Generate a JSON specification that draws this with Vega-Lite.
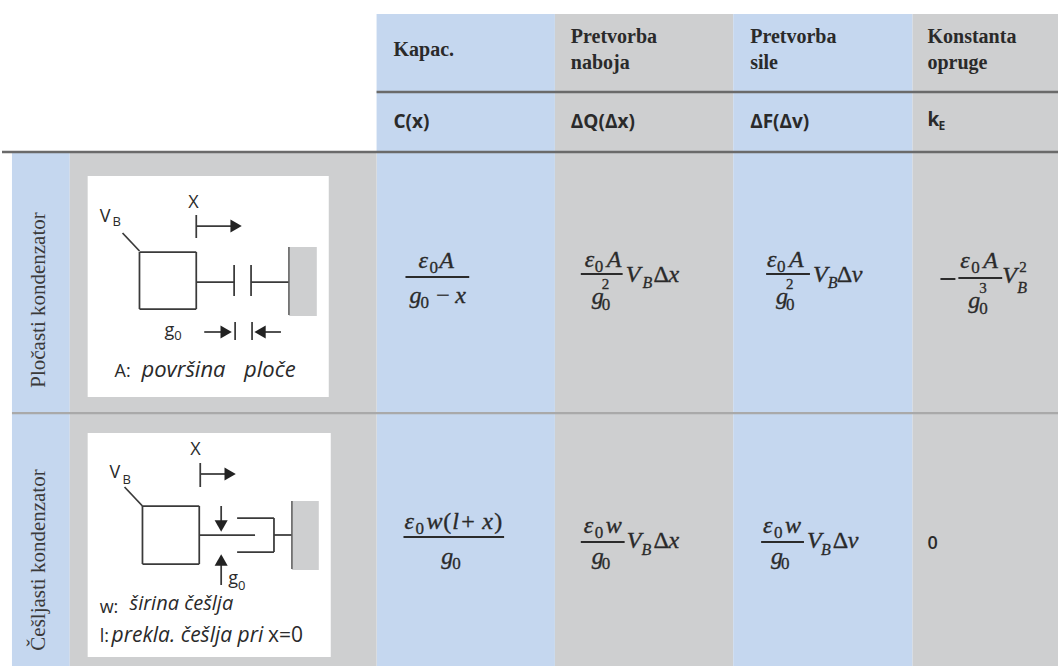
{
"$schema":"https://vega.github.io/schema/vega-lite/v6.json",
"width":1060,"height":666,"padding":0,"autosize":{"type":"fit","contains":"padding"},
"background":"#ffffff","view":{"stroke":null},
"datasets":{
"cells":[
{"kind":"blue","x":376,"x2":555,"y":14,"y2":666},
{"kind":"gray","x":555,"x2":734,"y":14,"y2":666},
{"kind":"blue","x":734,"x2":914,"y":14,"y2":666},
{"kind":"gray","x":914,"x2":1060,"y":14,"y2":666},
{"kind":"blue","x":10,"x2":68,"y":153,"y2":666},
{"kind":"gray","x":68,"x2":376,"y":153,"y2":666},
{"kind":"white","x":86,"x2":328,"y":176,"y2":397},
{"kind":"white","x":86,"x2":330,"y":433,"y2":657},
{"kind":"gray","x":288,"x2":316,"y":247,"y2":316},
{"kind":"gray","x":291,"x2":318,"y":501,"y2":570}
],
"lines":[
{"kind":"head","x":376,"x2":1060,"y":92,"y2":92},
{"kind":"head","x":0,"x2":1060,"y":152,"y2":152},
{"kind":"row","x":10,"x2":1060,"y":413,"y2":413},
{"kind":"frac","x":405,"x2":469,"y":277,"y2":277},
{"kind":"frac","x":581,"x2":623,"y":274,"y2":274},
{"kind":"frac","x":767,"x2":811,"y":274,"y2":274},
{"kind":"frac","x":960,"x2":1004,"y":278,"y2":278},
{"kind":"frac","x":942,"x2":957,"y":279,"y2":279},
{"kind":"frac","x":403,"x2":504,"y":537,"y2":537},
{"kind":"frac","x":581,"x2":625,"y":542,"y2":542},
{"kind":"frac","x":762,"x2":805,"y":542,"y2":542},
{"kind":"draw","x":121,"x2":138,"y":233,"y2":251},
{"kind":"draw","x":138,"x2":195,"y":252,"y2":252},
{"kind":"draw","x":138,"x2":195,"y":309,"y2":309},
{"kind":"draw","x":138,"x2":138,"y":252,"y2":309},
{"kind":"draw","x":195,"x2":195,"y":252,"y2":309},
{"kind":"draw","x":195,"x2":195,"y":215,"y2":238},
{"kind":"draw","x":195,"x2":230,"y":226,"y2":226},
{"kind":"draw","x":195,"x2":233,"y":282,"y2":282},
{"kind":"draw","x":233,"x2":233,"y":265,"y2":296},
{"kind":"draw","x":250,"x2":250,"y":265,"y2":296},
{"kind":"draw","x":250,"x2":288,"y":282,"y2":282},
{"kind":"wall","x":288,"x2":288,"y":247,"y2":315},
{"kind":"draw","x":203,"x2":222,"y":332,"y2":332},
{"kind":"draw","x":234,"x2":234,"y":322,"y2":340},
{"kind":"draw","x":251,"x2":251,"y":322,"y2":340},
{"kind":"draw","x":262,"x2":280,"y":332,"y2":332},
{"kind":"draw","x":123,"x2":141,"y":487,"y2":506},
{"kind":"draw","x":141,"x2":198,"y":506,"y2":506},
{"kind":"draw","x":141,"x2":198,"y":564,"y2":564},
{"kind":"draw","x":141,"x2":141,"y":506,"y2":564},
{"kind":"draw","x":198,"x2":198,"y":506,"y2":564},
{"kind":"draw","x":199,"x2":199,"y":463,"y2":487},
{"kind":"draw","x":199,"x2":224,"y":474,"y2":474},
{"kind":"draw","x":198,"x2":254,"y":535,"y2":535},
{"kind":"draw","x":220,"x2":220,"y":506,"y2":522},
{"kind":"draw","x":220,"x2":220,"y":565,"y2":585},
{"kind":"draw","x":236,"x2":273,"y":518,"y2":518},
{"kind":"draw","x":236,"x2":273,"y":552,"y2":552},
{"kind":"draw","x":273,"x2":273,"y":518,"y2":552},
{"kind":"draw","x":273,"x2":291,"y":535,"y2":535},
{"kind":"wall","x":291,"x2":291,"y":501,"y2":569}
],
"arrows":[
{"dir":"right","x":235,"y":226},
{"dir":"right","x":225,"y":332},
{"dir":"left","x":259,"y":332},
{"dir":"right","x":229,"y":474},
{"dir":"down","x":220,"y":526},
{"dir":"up","x":220,"y":560}
],
"labels":[
{"role":"head","text":"Kapac.","x":393,"y":56},
{"role":"head","text":"Pretvorba","x":571,"y":43},
{"role":"head","text":"naboja","x":571,"y":69},
{"role":"head","text":"Pretvorba","x":751,"y":43},
{"role":"head","text":"sile","x":751,"y":69},
{"role":"head","text":"Konstanta","x":929,"y":43},
{"role":"head","text":"opruge","x":929,"y":69},
{"role":"sym","text":"C(x)","x":393,"y":128},
{"role":"sym","text":"ΔQ(Δx)","x":571,"y":128},
{"role":"sym","text":"ΔF(Δv)","x":751,"y":128},
{"role":"sym","text":"k","x":929,"y":126},
{"role":"symsub","text":"E","x":940,"y":130},
{"role":"zero","text":"0","x":929,"y":549},
{"role":"rot","text":"Pločasti kondenzator","x":43,"y":300},
{"role":"rot","text":"Češljasti kondenzator","x":43,"y":560},
{"role":"mi","text":"ε","x":418,"y":268},{"role":"sub","text":"0","x":429,"y":273},{"role":"mi","text":"A","x":439,"y":268},
{"role":"mi","text":"g","x":409,"y":303},{"role":"sub","text":"0","x":420,"y":308},{"role":"mup","text":"−","x":436,"y":303},{"role":"mi","text":"x","x":455,"y":303},
{"role":"mi","text":"ε","x":585,"y":267},{"role":"sub","text":"0","x":595,"y":272},{"role":"mi","text":"A","x":607,"y":267},
{"role":"mi","text":"g","x":592,"y":304},{"role":"sub","text":"0","x":602,"y":310},{"role":"sup","text":"2","x":602,"y":289},
{"role":"mi","text":"V","x":626,"y":282},{"role":"subi","text":"B","x":643,"y":288},{"role":"mup","text":"Δ","x":654,"y":282},{"role":"mi","text":"x","x":669,"y":282},
{"role":"mi","text":"ε","x":768,"y":267},{"role":"sub","text":"0","x":778,"y":272},{"role":"mi","text":"A","x":790,"y":267},
{"role":"mi","text":"g","x":777,"y":304},{"role":"sub","text":"0","x":787,"y":310},{"role":"sup","text":"2","x":787,"y":289},
{"role":"mi","text":"V","x":814,"y":282},{"role":"subi","text":"B","x":829,"y":288},{"role":"mup","text":"Δ","x":838,"y":282},{"role":"mi","text":"v","x":853,"y":282},
{"role":"mi","text":"ε","x":962,"y":268},{"role":"sub","text":"0","x":973,"y":273},{"role":"mi","text":"A","x":985,"y":268},
{"role":"mi","text":"g","x":970,"y":308},{"role":"sub","text":"0","x":981,"y":314},{"role":"sup","text":"3","x":981,"y":293},
{"role":"mi","text":"V","x":1004,"y":283},{"role":"subi","text":"B","x":1019,"y":293},{"role":"sup","text":"2","x":1021,"y":272},
{"role":"mi","text":"ε","x":404,"y":529},{"role":"sub","text":"0","x":415,"y":534},{"role":"mi","text":"w","x":426,"y":529},{"role":"mup","text":"(","x":443,"y":529},{"role":"mi","text":"l","x":452,"y":529},{"role":"mup","text":"+","x":461,"y":529},{"role":"mi","text":"x","x":482,"y":529},{"role":"mup","text":")","x":494,"y":529},
{"role":"mi","text":"g","x":441,"y":564},{"role":"sub","text":"0","x":452,"y":569},
{"role":"mi","text":"ε","x":584,"y":533},{"role":"sub","text":"0","x":595,"y":538},{"role":"mi","text":"w","x":606,"y":533},
{"role":"mi","text":"g","x":592,"y":564},{"role":"sub","text":"0","x":602,"y":569},
{"role":"mi","text":"V","x":627,"y":548},{"role":"subi","text":"B","x":642,"y":555},{"role":"mup","text":"Δ","x":654,"y":548},{"role":"mi","text":"x","x":669,"y":548},
{"role":"mi","text":"ε","x":764,"y":533},{"role":"sub","text":"0","x":775,"y":538},{"role":"mi","text":"w","x":786,"y":533},
{"role":"mi","text":"g","x":772,"y":564},{"role":"sub","text":"0","x":782,"y":569},
{"role":"mi","text":"V","x":808,"y":548},{"role":"subi","text":"B","x":822,"y":555},{"role":"mup","text":"Δ","x":834,"y":548},{"role":"mi","text":"v","x":849,"y":548},
{"role":"dg","text":"X","x":187,"y":208},
{"role":"dg","text":"V","x":98,"y":222},{"role":"dgsub","text":"B","x":111,"y":226},
{"role":"dg","text":"g","x":163,"y":336},{"role":"dgsub","text":"0","x":173,"y":340},
{"role":"dg","text":"A:","x":113,"y":377},{"role":"dgit","text":"površina","x":140,"y":377},{"role":"dgit","text":"ploče","x":243,"y":377},
{"role":"dg","text":"X","x":189,"y":455},
{"role":"dg","text":"V","x":108,"y":478},{"role":"dgsub","text":"B","x":121,"y":484},
{"role":"dg","text":"g","x":227,"y":584},{"role":"dgsub","text":"0","x":237,"y":590},
{"role":"dg","text":"w:","x":98,"y":613},{"role":"dgit2","text":"širina češlja","x":128,"y":610},
{"role":"dg","text":"l:","x":98,"y":642},{"role":"dgit3","text":"prekla. češlja pri","x":110,"y":642},{"role":"dgx","text":"x=0","x":267,"y":642}
]
},
"encoding":{
"x":{"field":"x","type":"quantitative","axis":null,"scale":{"domain":[0,1060],"nice":false,"zero":false}},
"y":{"field":"y","type":"quantitative","axis":null,"scale":{"domain":[666,0],"nice":false,"zero":false}}
},
"layer":[
{"data":{"name":"cells"},"mark":{"type":"rect"},
 "encoding":{"x2":{"field":"x2"},"y2":{"field":"y2"},
 "fill":{"field":"kind","type":"nominal","legend":null,"scale":{"domain":["blue","gray","white"],"range":["#c5d7ef","#cecfd0","#ffffff"]}}}},
{"data":{"name":"lines"},"mark":{"type":"rule"},
 "encoding":{"x2":{"field":"x2"},"y2":{"field":"y2"},
 "stroke":{"field":"kind","type":"nominal","legend":null,"scale":{"domain":["head","row","frac","draw","wall"],"range":["#6a6a6a","#a9a9a9","#2b2b2b","#3a3a3a","#5a5a5a"]}},
 "strokeWidth":{"field":"kind","type":"nominal","legend":null,"scale":{"domain":["head","row","frac","draw","wall"],"range":[2.5,1.5,1.2,1.3,3]}}}},
{"data":{"name":"arrows"},"mark":{"type":"point","filled":true,"opacity":1,"size":170,"color":"#222222"},
 "encoding":{"shape":{"field":"dir","type":"nominal","legend":null,"scale":{"domain":["right","left","down","up"],"range":["triangle-right","triangle-left","triangle-down","triangle-up"]}}}},
{"data":{"name":"labels"},"transform":[{"filter":"datum.role==='head'"}],"mark":{"type":"text","align":"left","baseline":"alphabetic","font":"Liberation Serif","fontWeight":"bold","fontSize":20,"color":"#2a2a2a"},"encoding":{"text":{"field":"text"}}},
{"data":{"name":"labels"},"transform":[{"filter":"datum.role==='sym'"}],"mark":{"type":"text","align":"left","baseline":"alphabetic","font":"Open Sans","fontWeight":"bold","fontSize":19,"color":"#2a2a2a"},"encoding":{"text":{"field":"text"}}},
{"data":{"name":"labels"},"transform":[{"filter":"datum.role==='symsub'"}],"mark":{"type":"text","align":"left","baseline":"alphabetic","font":"Open Sans","fontWeight":"bold","fontSize":12,"color":"#2a2a2a"},"encoding":{"text":{"field":"text"}}},
{"data":{"name":"labels"},"transform":[{"filter":"datum.role==='zero'"}],"mark":{"type":"text","align":"left","baseline":"alphabetic","font":"Open Sans","fontWeight":600,"fontSize":18,"color":"#2a2a2a"},"encoding":{"text":{"field":"text"}}},
{"data":{"name":"labels"},"transform":[{"filter":"datum.role==='rot'"}],"mark":{"type":"text","align":"center","baseline":"alphabetic","angle":270,"font":"Liberation Serif","fontSize":21,"color":"#3a3a3a"},"encoding":{"text":{"field":"text"}}},
{"data":{"name":"labels"},"transform":[{"filter":"datum.role==='mi'"}],"mark":{"type":"text","align":"left","baseline":"alphabetic","font":"Liberation Serif","fontStyle":"italic","fontSize":24,"color":"#2a2a2a","stroke":"#2a2a2a","strokeWidth":0.35},"encoding":{"text":{"field":"text"}}},
{"data":{"name":"labels"},"transform":[{"filter":"datum.role==='mup'"}],"mark":{"type":"text","align":"left","baseline":"alphabetic","font":"Liberation Serif","fontSize":24,"color":"#2a2a2a","stroke":"#2a2a2a","strokeWidth":0.35},"encoding":{"text":{"field":"text"}}},
{"data":{"name":"labels"},"transform":[{"filter":"datum.role==='sub'"}],"mark":{"type":"text","align":"left","baseline":"alphabetic","font":"Liberation Serif","fontSize":17,"color":"#2a2a2a","stroke":"#2a2a2a","strokeWidth":0.3},"encoding":{"text":{"field":"text"}}},
{"data":{"name":"labels"},"transform":[{"filter":"datum.role==='sup'"}],"mark":{"type":"text","align":"left","baseline":"alphabetic","font":"Liberation Serif","fontSize":15,"color":"#2a2a2a","stroke":"#2a2a2a","strokeWidth":0.3},"encoding":{"text":{"field":"text"}}},
{"data":{"name":"labels"},"transform":[{"filter":"datum.role==='subi'"}],"mark":{"type":"text","align":"left","baseline":"alphabetic","font":"Liberation Serif","fontStyle":"italic","fontSize":16,"color":"#2a2a2a","stroke":"#2a2a2a","strokeWidth":0.3},"encoding":{"text":{"field":"text"}}},
{"data":{"name":"labels"},"transform":[{"filter":"datum.role==='dg'"}],"mark":{"type":"text","align":"left","baseline":"alphabetic","font":"Open Sans","fontSize":18,"color":"#2a2a2a"},"encoding":{"text":{"field":"text"}}},
{"data":{"name":"labels"},"transform":[{"filter":"datum.role==='dgx'"}],"mark":{"type":"text","align":"left","baseline":"alphabetic","font":"Open Sans","fontSize":21,"color":"#2a2a2a"},"encoding":{"text":{"field":"text"}}},
{"data":{"name":"labels"},"transform":[{"filter":"datum.role==='dgsub'"}],"mark":{"type":"text","align":"left","baseline":"alphabetic","font":"Open Sans","fontSize":13,"color":"#2a2a2a"},"encoding":{"text":{"field":"text"}}},
{"data":{"name":"labels"},"transform":[{"filter":"datum.role==='dgit'"}],"mark":{"type":"text","align":"left","baseline":"alphabetic","font":"Open Sans","fontStyle":"italic","fontSize":22,"color":"#2a2a2a"},"encoding":{"text":{"field":"text"}}},
{"data":{"name":"labels"},"transform":[{"filter":"datum.role==='dgit2'"}],"mark":{"type":"text","align":"left","baseline":"alphabetic","font":"Open Sans","fontStyle":"italic","fontSize":20,"color":"#2a2a2a"},"encoding":{"text":{"field":"text"}}},
{"data":{"name":"labels"},"transform":[{"filter":"datum.role==='dgit3'"}],"mark":{"type":"text","align":"left","baseline":"alphabetic","font":"Open Sans","fontStyle":"italic","fontSize":21,"color":"#2a2a2a"},"encoding":{"text":{"field":"text"}}}
]
}
